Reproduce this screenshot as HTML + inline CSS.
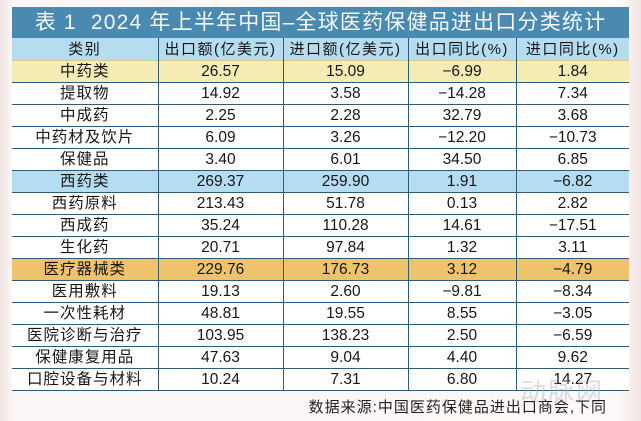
<!DOCTYPE html>
<html><head><meta charset="utf-8"><style>
body{margin:0;width:641px;height:421px;overflow:hidden;background:linear-gradient(90deg,#efe4e2 0,#faf6f5 12px,#fbf8f7 620px,#f3e3e3 641px);font-family:"Liberation Sans","Noto Sans CJK SC",sans-serif;position:relative}
.title{position:absolute;left:12px;top:7px;width:617px;height:31px;background:#4a89b0;color:#f4f8fb;font-size:21px;line-height:31px;text-align:center;letter-spacing:1.2px}
table{position:absolute;left:12px;top:38px;border-collapse:collapse;table-layout:fixed;width:617px}
td{height:21px;padding:0;text-align:center;font-size:15.5px;color:#161616;border-left:1.5px solid #2f5c78;border-top:1px solid #2f5c78;line-height:21px;background:#fff}
tr td:first-child{border-left:none;letter-spacing:1px}
tr.h td{background:#b6ddef;border-top:none;font-size:15px;height:22px;letter-spacing:1.5px}
tr.y td{background:#f4ecb4;border-top:1px solid #d5c98c}
tr.b td{background:#b5ddf1}
tr.o td{background:#eec36c}
.src{position:absolute;right:34px;top:396px;font-size:15px;color:#222;letter-spacing:1px}
.wm{position:absolute;left:520px;top:372px;font-size:26px;color:rgba(180,180,180,.45);letter-spacing:2px}
</style></head><body>
<div class="title">表 1&nbsp; 2024 年上半年中国–全球医药保健品进出口分类统计</div>
<table>
<colgroup><col style="width:146px"><col style="width:125px"><col style="width:125px"><col style="width:108px"><col style="width:113px"></colgroup>
<tr class="h"><td>类别</td><td>出口额(亿美元)</td><td>进口额(亿美元)</td><td>出口同比(%)</td><td>进口同比(%)</td></tr>
<tr class="y"><td>中药类</td><td>26.57</td><td>15.09</td><td>−6.99</td><td>1.84</td></tr>
<tr><td>提取物</td><td>14.92</td><td>3.58</td><td>−14.28</td><td>7.34</td></tr>
<tr><td>中成药</td><td>2.25</td><td>2.28</td><td>32.79</td><td>3.68</td></tr>
<tr><td>中药材及饮片</td><td>6.09</td><td>3.26</td><td>−12.20</td><td>−10.73</td></tr>
<tr><td>保健品</td><td>3.40</td><td>6.01</td><td>34.50</td><td>6.85</td></tr>
<tr class="b"><td>西药类</td><td>269.37</td><td>259.90</td><td>1.91</td><td>−6.82</td></tr>
<tr><td>西药原料</td><td>213.43</td><td>51.78</td><td>0.13</td><td>2.82</td></tr>
<tr><td>西成药</td><td>35.24</td><td>110.28</td><td>14.61</td><td>−17.51</td></tr>
<tr><td>生化药</td><td>20.71</td><td>97.84</td><td>1.32</td><td>3.11</td></tr>
<tr class="o"><td>医疗器械类</td><td>229.76</td><td>176.73</td><td>3.12</td><td>−4.79</td></tr>
<tr><td>医用敷料</td><td>19.13</td><td>2.60</td><td>−9.81</td><td>−8.34</td></tr>
<tr><td>一次性耗材</td><td>48.81</td><td>19.55</td><td>8.55</td><td>−3.05</td></tr>
<tr><td>医院诊断与治疗</td><td>103.95</td><td>138.23</td><td>2.50</td><td>−6.59</td></tr>
<tr><td>保健康复用品</td><td>47.63</td><td>9.04</td><td>4.40</td><td>9.62</td></tr>
<tr><td style="border-bottom:1.5px solid #2f5c78">口腔设备与材料</td><td style="border-bottom:1.5px solid #2f5c78">10.24</td><td style="border-bottom:1.5px solid #2f5c78">7.31</td><td style="border-bottom:1.5px solid #2f5c78">6.80</td><td style="border-bottom:1.5px solid #2f5c78">14.27</td></tr>
</table>
<div class="wm">动脉网</div>
<div class="src">数据来源:中国医药保健品进出口商会,下同</div>
</body></html>
